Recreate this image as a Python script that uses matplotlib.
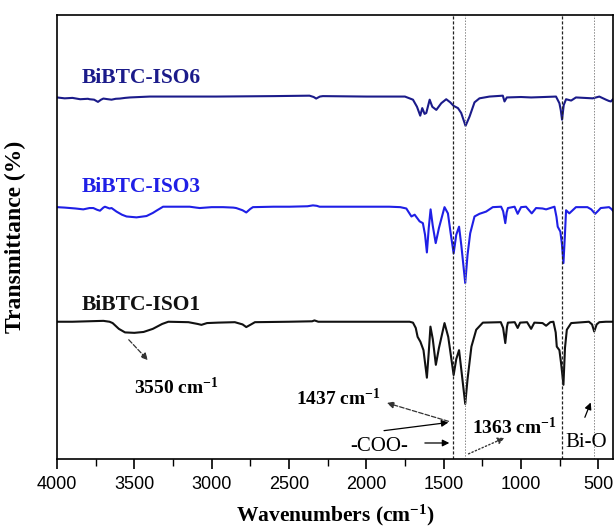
import matplotlib
matplotlib.use("Agg")
import matplotlib.pyplot as plt

plt.rcParams["mathtext.fontset"] = "custom"
plt.rcParams["mathtext.rm"] = "Liberation Serif"
plt.rcParams["mathtext.bf"] = "Liberation Serif:bold"
plt.rcParams["mathtext.default"] = "bf"

# FTIR spectra (wavenumber, stacked transmittance)
iso1_wn = [4000, 3900, 3800, 3700, 3660, 3640, 3600, 3560, 3500, 3440, 3380, 3320, 3280,
           3150, 3090, 3066, 3030, 2960, 2850, 2800, 2776, 2750, 2720, 2500, 2350, 2335,
           2310, 2000, 1850, 1720, 1698, 1680, 1668, 1650, 1630, 1608, 1596, 1585, 1570,
           1550, 1530, 1494, 1470, 1435, 1418, 1400, 1385, 1360, 1345, 1320, 1289, 1246,
           1130, 1115, 1101, 1090, 1084, 1040, 1021, 1005, 960, 934, 913, 860, 837, 810,
           790, 775, 768, 751, 740, 725, 715, 703, 675, 560, 540, 526, 510, 493, 450, 405]
iso1_t = [30.9, 30.9, 31.0, 31.1, 30.9, 30.6, 29.3, 28.5, 28.4, 28.6, 29.3, 30.4, 30.9,
          30.8, 30.4, 30.2, 30.6, 30.7, 30.8, 30.3, 29.7, 30.2, 30.8, 30.9, 31.0, 31.2,
          30.9, 30.9, 30.9, 30.9, 30.7, 29.5, 27.5, 26.4, 24.5, 18.3, 24.0, 29.8, 27.0,
          21.2, 25.0, 30.6, 27.5, 18.9, 22.5, 24.5, 20.0, 12.4, 18.0, 25.3, 29.1, 30.7,
          30.8, 29.5, 26.1, 29.8, 30.7, 30.8, 29.5, 30.7, 30.8, 29.3, 30.7, 30.6, 30.0, 30.8,
          30.9, 28.5, 25.3, 24.5, 21.5, 16.7, 25.0, 29.1, 30.6, 30.9, 30.3, 28.7, 30.3, 30.8, 30.9, 30.9]

iso3_wn = [4000, 3950, 3880, 3830, 3790, 3765, 3740, 3722, 3700, 3690, 3660, 3647, 3615,
           3580, 3550, 3486, 3421, 3380, 3357, 3314, 3200, 3142, 3100, 3077, 3000, 2926,
           2860, 2841, 2800, 2776, 2750, 2733, 2600, 2496, 2380, 2345, 2320, 2302, 2000,
           1851, 1780, 1741, 1708, 1687, 1655, 1634, 1620, 1608, 1596, 1584, 1570, 1551,
           1530, 1494, 1472, 1455, 1435, 1418, 1400, 1385, 1360, 1345, 1328, 1300, 1268,
           1225, 1182, 1128, 1115, 1101, 1092, 1084, 1041, 1021, 999, 967, 930, 902, 860,
           837, 783, 770, 762, 745, 735, 725, 716, 708, 687, 644, 570, 545, 520, 500, 484,
           430, 415, 405]
iso3_t = [56.7, 56.6, 56.4, 56.2, 56.5, 56.5, 56.1, 55.9, 56.6, 56.8, 56.4, 56.5, 55.7,
          55.0, 54.6, 54.4, 54.7, 55.4, 55.9, 56.8, 56.8, 56.8, 56.6, 56.5, 56.7, 56.7,
          56.6, 56.5, 56.0, 55.5, 56.3, 56.7, 56.8, 56.8, 56.9, 57.1, 57.0, 56.8, 56.8,
          56.8, 56.7, 56.4, 54.6, 55.0, 53.5, 53.1, 50.5, 46.5, 52.0, 56.2, 52.5, 48.6,
          52.0, 56.7, 55.3, 51.0, 46.3, 50.5, 52.3, 48.0, 39.6, 46.0, 50.8, 54.6, 55.2,
          55.7, 56.7, 56.8, 55.8, 53.1, 55.5, 56.5, 56.8, 55.2, 56.7, 56.8, 55.3, 56.5, 56.4,
          56.2, 56.8, 54.5, 52.3, 51.2, 48.5, 44.1, 50.0, 56.0, 55.3, 56.7, 56.7, 56.2, 55.2, 55.9, 56.5,
          56.7, 56.3, 55.9]

iso6_wn = [4000, 3950, 3900, 3850, 3800, 3789, 3760, 3735, 3715, 3700, 3670, 3647, 3620,
           3593, 3560, 3528, 3400, 3200, 2970, 2600, 2367, 2340, 2324, 2300, 2281, 2000,
           1851, 1750, 1698, 1672, 1651, 1638, 1623, 1612, 1590, 1573, 1547, 1515, 1483,
           1457, 1435, 1407, 1386, 1358, 1332, 1300, 1268, 1203, 1117, 1106, 1091, 1000,
           934, 850, 773, 751, 742, 734, 723, 708, 675, 644, 536, 493, 450, 430, 418, 405]
iso6_t = [81.4, 81.2, 81.3, 81.0, 81.1, 81.0, 80.9, 80.4, 80.9, 81.15, 81.0, 80.9, 81.1,
          81.15, 81.3, 81.4, 81.6, 81.6, 81.6, 81.7, 81.8, 81.5, 81.15, 81.6, 81.7, 81.6,
          81.6, 81.6, 80.9, 79.3, 77.3, 79.0, 77.7, 77.9, 80.9, 79.3, 78.6, 80.1, 81.0,
          80.3, 79.5, 79.0, 77.9, 75.0, 77.1, 80.3, 81.2, 81.6, 81.8, 80.5, 81.4, 81.5,
          81.4, 81.5, 81.6, 80.1, 78.5, 76.4, 79.7, 81.0, 80.7, 81.4, 81.2, 81.6, 80.9, 80.6, 80.5, 81.0]

series_names = ["BiBTC-ISO6", "BiBTC-ISO3", "BiBTC-ISO1"]
series_colors = ["#1b1b8a", "#1f1fe6", "#111111"]
marker_lines = [1437, 1363, 732, 526]

serif = ["Liberation Serif", "DejaVu Serif"]
sans = ["Liberation Sans", "DejaVu Sans"]

fig = plt.figure(figsize=(6.16, 5.3), dpi=100)
ax = fig.add_axes([0.0925, 0.134, 0.9025, 0.838])

for wn, t, name, col, ly in zip([iso6_wn, iso3_wn, iso1_wn], [iso6_t, iso3_t, iso1_t],
                                series_names, series_colors, [85.8, 61.3, 34.7]):
    ax.plot(wn, t, color=col, lw=1.5)
    ax.text(3840, ly, name, color=col, fontsize=15.5, fontweight="bold",
            family=serif, ha="left", va="center")

# reference lines
for i, w in enumerate(marker_lines):
    if i % 2 == 0:
        ax.axvline(w, color="#222222", lw=0.9, ls=(0, (2.5, 1.5)))
    else:
        ax.axvline(w, color="#888888", lw=0.7, ls=(0, (1.5, 1.5)))

# annotations
cm = "cm$^{-1}$"
ax.text(3226, 16.2, "3550 " + cm, fontsize=14, fontweight="bold", family=serif,
        ha="center", va="center")
ax.annotate("", xy=(3400, 21.8), xytext=(3548, 27.3),
            arrowprops=dict(arrowstyle="-|>", ls="--", color="#333333", lw=0.9))
ax.text(2180, 13.7, "1437 " + cm, fontsize=14, fontweight="bold", family=serif,
        ha="center", va="center")
ax.annotate("", xy=(1884, 12.8), xytext=(1451, 8.3),
            arrowprops=dict(arrowstyle="-|>", ls="--", color="#333333", lw=0.9))
ax.annotate("", xy=(1451, 8.3), xytext=(1903, 6.3),
            arrowprops=dict(arrowstyle="-|>", color="black", lw=0.9))
ax.text(1916, 2.7, "-COO-", fontsize=15, family=serif, ha="center", va="center")
ax.annotate("", xy=(1445, 3.6), xytext=(1639, 3.6),
            arrowprops=dict(arrowstyle="-|>", color="black", lw=0.9))
ax.annotate("", xy=(1090, 5.0), xytext=(1355, 0.9),
            arrowprops=dict(arrowstyle="-|>", ls=":", color="#333333", lw=1.0))
ax.text(1045, 7.2, "1363 " + cm, fontsize=14, fontweight="bold", family=serif,
        ha="center", va="center")
ax.text(580, 3.8, "Bi-O", fontsize=15, family=serif, ha="center", va="center")
ax.annotate("", xy=(542, 13.3), xytext=(593, 8.8),
            arrowprops=dict(arrowstyle="-|>", color="black", lw=0.9))

ax.set_xlim(4000, 405)
ax.set_ylim(0, 100)
ax.set_yticks([])
ax.set_xticks([4000, 3500, 3000, 2500, 2000, 1500, 1000, 500])
ax.set_xticks([3750, 3250, 2750, 2250, 1750, 1250, 750], minor=True)
ax.tick_params(axis="x", which="major", direction="out", length=7, width=1.2,
               labelsize=13, pad=5)
ax.tick_params(axis="x", which="minor", direction="out", length=5, width=1.0)
for lab in ax.get_xticklabels():
    lab.set_family(sans)
for sp in ax.spines.values():
    sp.set_linewidth(1.2)

ax.set_xlabel("Wavenumbers (" + cm + ")", fontsize=15.5, fontweight="bold",
              family=serif, labelpad=7)
ax.set_ylabel("Transmittance (%)", fontsize=17, fontweight="bold", family=serif, labelpad=22)

fig.savefig("out.png", dpi=100)
